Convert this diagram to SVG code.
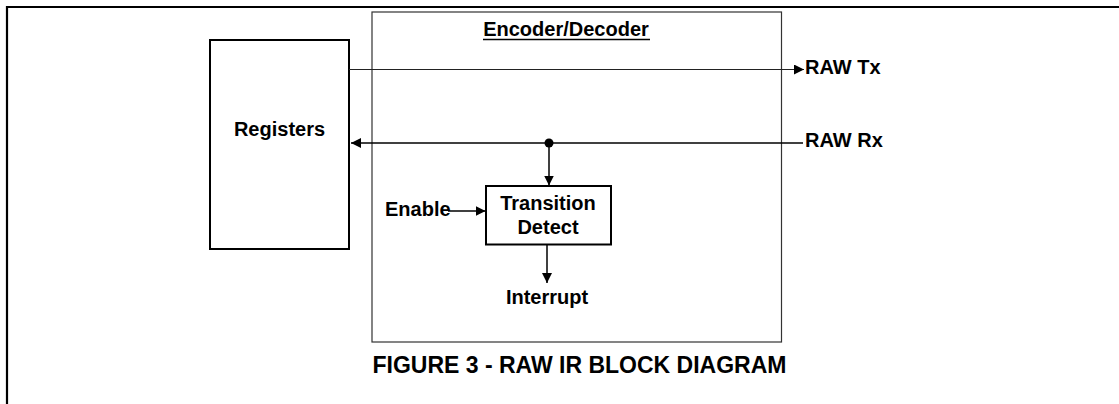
<svg xmlns="http://www.w3.org/2000/svg" width="1119" height="404" viewBox="0 0 1119 404">
<defs>
<style>
text{font-family:"Liberation Sans",Arial,sans-serif;font-weight:bold;font-size:20px;fill:#000}
.box{fill:#fff;stroke:#000;stroke-width:2}
.thin{fill:none;stroke:#222;stroke-width:1.2}
.wire{fill:none;stroke:#000;stroke-width:1.5}
</style>
<marker id="arr" viewBox="0 0 10 10" refX="10" refY="5" markerWidth="10" markerHeight="10" markerUnits="userSpaceOnUse" orient="auto">
<path d="M0,0 L10,5 L0,10 Z" fill="#000"/>
</marker>
</defs>
<rect width="1119" height="404" fill="#fff"/>
<path d="M7,404 V7 H1119" fill="none" stroke="#000" stroke-width="2.2"/>
<g id="encoder">
<rect x="372" y="12" width="409.5" height="330" fill="none" stroke="#333" stroke-width="1.2"/>
<text x="566" y="36" text-anchor="middle">Encoder/Decoder</text>
<line x1="483" y1="39.5" x2="650" y2="39.5" stroke="#000" stroke-width="1.5"/>
</g>
<g id="registers">
<rect class="box" x="210" y="40" width="139" height="209"/>
<text x="279.5" y="136" text-anchor="middle">Registers</text>
</g>
<g id="transition">
<rect class="box" x="486" y="186" width="125" height="58.5"/>
<text x="548" y="210" text-anchor="middle">Transition</text>
<text x="548" y="234" text-anchor="middle">Detect</text>
</g>
<g id="labels">
<text x="805" y="73.5">RAW Tx</text>
<text x="805" y="147">RAW Rx</text>
<text x="385" y="216">Enable</text>
<text x="547" y="304" text-anchor="middle">Interrupt</text>
<text x="579.5" y="373" text-anchor="middle" style="font-size:23px">FIGURE 3 - RAW IR BLOCK DIAGRAM</text>
</g>
<g id="connectors">
<line class="thin" x1="349" y1="69.5" x2="804" y2="69.5" marker-end="url(#arr)"/>
<line class="wire" x1="803" y1="143" x2="351" y2="143" marker-end="url(#arr)"/>
<circle cx="549" cy="143" r="4.5" fill="#000"/>
<line class="wire" x1="549" y1="143" x2="549" y2="185.5" marker-end="url(#arr)"/>
<line class="wire" x1="448" y1="211" x2="485.5" y2="211" marker-end="url(#arr)"/>
<line class="wire" x1="547" y1="245" x2="547" y2="283" marker-end="url(#arr)"/>
</g>
</svg>
